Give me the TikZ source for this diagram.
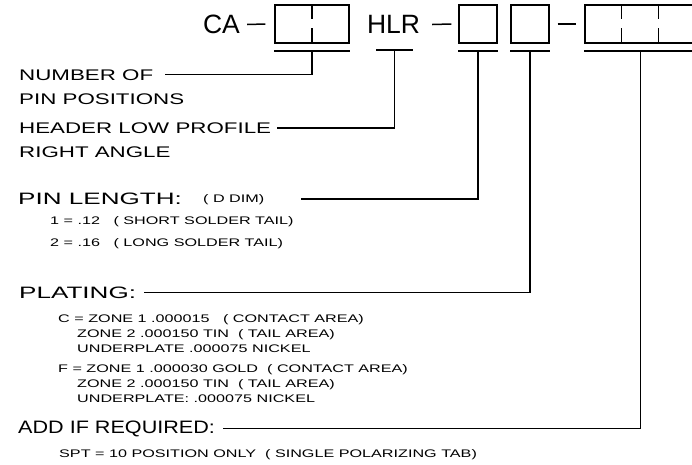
\documentclass[tikz,border=0pt]{standalone}
\usepackage{fontspec}
\setmainfont{Liberation Sans}
\newfontfamily\lblfont[FakeStretch=1.45]{Liberation Sans}
\newfontfamily\wideheadfont[FakeStretch=1.58]{Liberation Sans}
\newfontfamily\addfont[FakeStretch=1.2]{Liberation Sans}
\newfontfamily\notefont[FakeStretch=1.47]{Liberation Sans}

\begin{document}
\begin{tikzpicture}[x=1pt,y=-1pt,
        code/.style={inner sep=0pt,font=\fontsize{26.5}{30}\selectfont},
        slot/.style={draw,line width=1.3pt,minimum height=38pt,inner sep=0pt},
        under/.style={line width=2pt},
        lead/.style={line width=1.5pt,shorten >=8pt},
        hyph/.style={line width=1.5pt},
        label/.style={anchor=base west,inner sep=0pt,font=\lblfont\fontsize{15.4}{18}\selectfont},
        head/.style={anchor=base west,inner sep=0pt,font=\wideheadfont\fontsize{16.5}{20}\selectfont},
        addhead/.style={anchor=base west,inner sep=0pt,font=\addfont\fontsize{18}{20}\selectfont},
        note/.style={anchor=base west,inner sep=0pt,font=\notefont\fontsize{11}{13}\selectfont}
    ]
    \useasboundingbox (0,0) rectangle (692,464);

    % part number code
    \node[code] (ca) at (221.5,24.5) {CA};
    \node[slot,minimum width=74pt] (box1) at (312,24) {};
    \node[code] (hlr) at (393.5,24.5) {HLR};
    \node[slot,minimum width=38pt] (box2) at (478,24) {};
    \node[slot,minimum width=38pt] (box3) at (530,24) {};
    \node[slot,minimum width=111pt] (box4) at (640.5,24) {};

    \draw[hyph] ([xshift=7pt]ca.east) -- ([xshift=-9pt]box1.west);
    \draw[hyph] ([xshift=12pt]hlr.east) -- ([xshift=-7pt]box2.west);
    \draw[hyph] ([xshift=8pt]box3.east) -- ([xshift=-8pt]box4.west);

    % broken dividers
    \draw[line width=1.3pt] (box1.north) -- ++(0,15) (box1.south) -- ++(0,-16);
    \foreach \dx in {37,74}{
        \draw[line width=1.3pt] ([xshift=\dx pt]box4.north west) -- ++(0,15)
            ([xshift=\dx pt]box4.south west) -- ++(0,-16);
    }

    % underlines
    \foreach \b in {box1,box2,box3,box4}{
        \draw[under] ([yshift=-7pt]\b.south west) -- ([yshift=-7pt]\b.south east);
        \coordinate (u-\b) at ([yshift=-7pt]\b.south);
    }
    \coordinate (u-hlr) at (394.5,50);
    \draw[under] ([xshift=-18.5pt]u-hlr) -- ([xshift=18.5pt]u-hlr);

    % labels
    \node[label] (num) at (19,80) {NUMBER OF};
    \node[label] (pos) at (19,104) {PIN POSITIONS};
    \node[label] (hdr) at (19,133.5) {HEADER LOW PROFILE};
    \node[label] (ra) at (19,157.5) {RIGHT ANGLE};

    \node[head] (len) at (18,204) {PIN LENGTH:};
    \node[note] (ddim) at (203,202) {(~D DIM)};
    \node[note] (len1) at (50,224) {1 = .12~~ ( SHORT SOLDER TAIL)};
    \node[note] (len2) at (50,246) {2 = .16~~ ( LONG SOLDER TAIL)};

    \node[head] (plat) at (19,298) {PLATING:};
    \node[note] (c1) at (58,322) {C = ZONE 1 .000015~~ ( CONTACT AREA)};
    \node[note] (c2) at (77,337) {ZONE 2 .000150 TIN~ ( TAIL AREA)};
    \node[note] (c3) at (77,352) {UNDERPLATE .000075 NICKEL};
    \node[note] (f1) at (58,372) {F = ZONE 1 .000030 GOLD~ ( CONTACT AREA)};
    \node[note] (f2) at (77,387) {ZONE 2 .000150 TIN~ ( TAIL AREA)};
    \node[note] (f3) at (77,402) {UNDERPLATE: .000075 NICKEL};

    \node[addhead] (add) at (18,433) {ADD IF REQUIRED:};
    \node[note] (spt) at (59,457) {SPT = 10 POSITION ONLY~ ( SINGLE POLARIZING TAB)};

    % leaders
    \draw[lead,shorten >=12pt] (u-box1) |- (num.east);
    \draw[lead,shorten >=6pt] (u-hlr) |- (hdr.east);
    \draw[lead,shorten >=37pt] (u-box2) |- (ddim.east);
    \draw[lead] (u-box3) |- (plat.east);
    \draw[lead] (u-box4) |- (add.east);
\end{tikzpicture}
\end{document}
